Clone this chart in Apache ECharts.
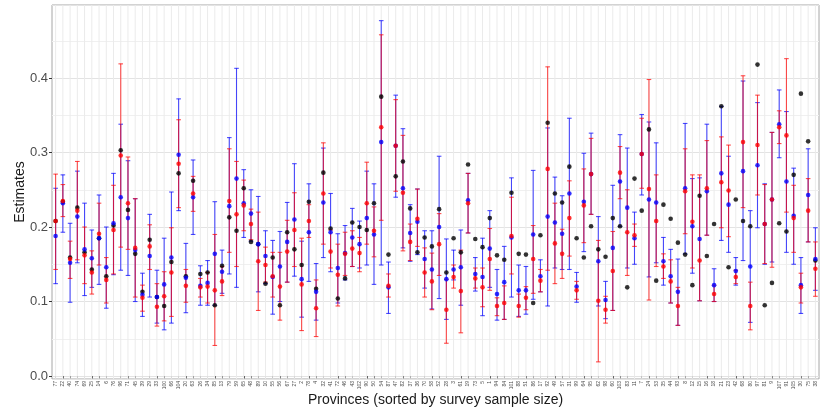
<!DOCTYPE html>
<html>
<head>
<meta charset="utf-8">
<script src="https://cdn.jsdelivr.net/npm/echarts@6/dist/echarts.min.js"></script>
<style>
  html, body { margin: 0; padding: 0; background: #fff; }
  #chart { width: 821px; height: 412px; }
</style>
</head>
<body>
<div id="chart"></div>
<script>
// provinces, sorted by survey sample size
const provinces = [77,22,40,74,69,25,14,6,76,96,
  71,45,39,29,33,100,66,104,20,63,
  26,34,85,13,79,59,65,48,89,10,
  55,56,67,27,2,78,4,32,41,72,
  46,43,102,90,50,54,87,47,82,37,
  36,70,58,52,28,3,61,19,73,5,
  1,94,84,101,88,51,86,17,92,49,
  57,31,99,64,95,62,98,60,103,83,
  11,7,24,53,35,44,93,8,12,15,
  16,18,21,23,42,68,80,97,81,9,
  107,91,105,30,75,38];

// black estimate (points only)
const blackEst = [0.208,0.234,0.159,0.226,0.166,0.143,0.185,0.134,0.202,0.303,
  0.223,0.164,0.113,0.183,0.106,0.094,0.153,0.272,0.134,0.262,
  0.137,0.139,0.095,0.148,0.213,0.195,0.252,0.180,0.177,0.124,
  0.159,0.095,0.193,0.170,0.149,0.234,0.117,0.273,0.198,0.104,
  0.131,0.206,0.200,0.196,0.232,0.375,0.163,0.268,0.288,0.225,
  0.166,0.186,0.174,0.224,0.139,0.185,0.166,0.284,0.184,0.173,
  0.212,0.162,0.156,0.246,0.164,0.163,0.098,0.189,0.340,0.245,
  0.233,0.281,0.185,0.159,0.201,0.170,0.160,0.212,0.201,0.119,
  0.265,0.222,0.331,0.128,0.230,0.211,0.179,0.163,0.122,0.242,
  0.161,0.204,0.362,0.146,0.237,0.208,0.201,0.418,0.095,0.125,
  0.205,0.194,0.270,0.379,0.315,0.155];

// blue estimate with interval
const blueEst = [0.188,0.232,0.152,0.214,0.170,0.158,0.185,0.146,0.205,0.240,
  0.212,0.169,0.109,0.161,0.106,0.123,0.159,0.297,0.132,0.240,
  0.121,0.125,0.164,0.140,0.228,0.265,0.232,0.218,0.177,0.161,
  0.133,0.147,0.180,0.210,0.130,0.193,0.113,0.233,0.193,0.145,
  0.165,0.186,0.177,0.212,0.190,0.314,0.119,0.309,0.252,0.192,
  0.207,0.157,0.143,0.200,0.130,0.143,0.146,0.236,0.137,0.133,
  0.171,0.110,0.126,0.186,0.115,0.115,0.190,0.134,0.214,0.206,
  0.191,0.245,0.120,0.234,0.271,0.154,0.102,0.172,0.261,0.226,
  0.185,0.298,0.237,0.233,0.154,0.134,0.113,0.252,0.201,0.184,
  0.248,0.122,0.272,0.230,0.141,0.275,0.147,0.283,0.204,0.237,
  0.338,0.261,0.215,0.122,0.243,0.157];
const blueLo = [0.124,0.193,0.099,0.152,0.108,0.119,0.123,0.091,0.136,0.142,
  0.135,0.100,0.080,0.106,0.071,0.062,0.071,0.222,0.085,0.190,
  0.095,0.095,0.095,0.111,0.137,0.119,0.186,0.181,0.113,0.124,
  0.083,0.100,0.126,0.134,0.079,0.127,0.075,0.159,0.140,0.098,
  0.129,0.147,0.145,0.149,0.123,0.149,0.084,0.240,0.172,0.154,
  0.163,0.118,0.090,0.104,0.076,0.129,0.095,0.192,0.114,0.081,
  0.119,0.075,0.076,0.106,0.080,0.083,0.103,0.113,0.094,0.145,
  0.143,0.143,0.099,0.167,0.217,0.094,0.077,0.088,0.201,0.145,
  0.150,0.243,0.133,0.152,0.122,0.098,0.068,0.164,0.138,0.101,
  0.189,0.100,0.182,0.166,0.122,0.155,0.072,0.199,0.150,0.153,
  0.293,0.166,0.150,0.084,0.180,0.115];
const blueHi = [0.252,0.270,0.205,0.275,0.232,0.196,0.243,0.200,0.272,0.338,
  0.289,0.238,0.138,0.217,0.142,0.185,0.247,0.372,0.178,0.290,
  0.148,0.155,0.234,0.169,0.320,0.413,0.277,0.250,0.241,0.195,
  0.182,0.194,0.233,0.285,0.181,0.258,0.151,0.306,0.245,0.191,
  0.202,0.225,0.208,0.275,0.258,0.477,0.153,0.377,0.332,0.230,
  0.251,0.195,0.195,0.295,0.184,0.169,0.196,0.272,0.159,0.185,
  0.222,0.143,0.174,0.266,0.149,0.147,0.276,0.156,0.333,0.267,
  0.242,0.346,0.139,0.299,0.326,0.214,0.127,0.256,0.324,0.306,
  0.220,0.351,0.341,0.313,0.186,0.170,0.157,0.339,0.265,0.266,
  0.338,0.144,0.362,0.295,0.159,0.396,0.222,0.367,0.258,0.327,
  0.384,0.355,0.279,0.159,0.305,0.199];

// red estimate with interval
const redEst = [0.208,0.235,0.157,0.222,0.162,0.139,0.191,0.129,0.196,0.296,
  0.232,0.172,0.105,0.174,0.093,0.107,0.139,0.285,0.121,0.245,
  0.119,0.120,0.115,0.127,0.235,0.217,0.229,0.204,0.154,0.149,
  0.134,0.120,0.167,0.196,0.123,0.208,0.091,0.245,0.167,0.136,
  0.164,0.171,0.165,0.232,0.195,0.334,0.121,0.309,0.246,0.180,
  0.211,0.139,0.127,0.177,0.089,0.133,0.114,0.232,0.131,0.119,
  0.157,0.094,0.098,0.188,0.094,0.105,0.157,0.128,0.278,0.178,
  0.164,0.212,0.115,0.229,0.271,0.101,0.089,0.141,0.273,0.193,
  0.189,0.298,0.251,0.208,0.147,0.127,0.094,0.248,0.207,0.155,
  0.252,0.110,0.260,0.249,0.133,0.314,0.094,0.310,0.204,0.237,
  0.334,0.323,0.212,0.119,0.222,0.144];
const redLo = [0.143,0.214,0.131,0.156,0.124,0.110,0.149,0.098,0.137,0.173,
  0.170,0.106,0.087,0.143,0.067,0.074,0.080,0.226,0.099,0.221,
  0.106,0.098,0.041,0.108,0.166,0.147,0.195,0.183,0.088,0.126,
  0.106,0.075,0.126,0.147,0.061,0.186,0.053,0.177,0.145,0.094,
  0.135,0.147,0.140,0.177,0.160,0.209,0.106,0.248,0.168,0.155,
  0.174,0.106,0.089,0.135,0.044,0.118,0.058,0.192,0.118,0.093,
  0.115,0.081,0.076,0.137,0.079,0.089,0.111,0.113,0.142,0.124,
  0.131,0.161,0.103,0.179,0.217,0.019,0.071,0.088,0.238,0.135,
  0.174,0.252,0.102,0.147,0.131,0.098,0.068,0.191,0.145,0.101,
  0.189,0.100,0.199,0.187,0.124,0.226,0.062,0.243,0.151,0.146,
  0.312,0.220,0.166,0.098,0.180,0.107];
const redHi = [0.271,0.257,0.181,0.288,0.200,0.168,0.232,0.159,0.256,0.419,
  0.294,0.238,0.122,0.203,0.124,0.140,0.199,0.344,0.143,0.268,
  0.131,0.139,0.190,0.147,0.305,0.288,0.263,0.224,0.220,0.173,
  0.166,0.166,0.209,0.246,0.185,0.230,0.129,0.313,0.196,0.177,
  0.193,0.195,0.186,0.287,0.227,0.458,0.137,0.371,0.323,0.204,
  0.251,0.172,0.165,0.218,0.130,0.149,0.169,0.272,0.145,0.145,
  0.198,0.105,0.121,0.240,0.110,0.120,0.202,0.143,0.415,0.232,
  0.197,0.262,0.127,0.278,0.319,0.182,0.107,0.194,0.308,0.250,
  0.204,0.346,0.398,0.270,0.164,0.156,0.119,0.305,0.270,0.270,
  0.316,0.122,0.321,0.310,0.142,0.403,0.126,0.377,0.257,0.327,
  0.356,0.426,0.256,0.138,0.265,0.180];

const FONT = "'Liberation Sans', Arial, sans-serif";

const chart = echarts.init(document.getElementById("chart"), null, { renderer: "canvas" });

// vertical grid line at the centre of every category
function vGridSeries() {
  return {
    type: "custom",
    silent: true,
    z: 1,
    data: provinces.map((p, i) => [i, 0]),
    renderItem: (params, api) => {
      const x = api.coord([api.value(0), 0])[0];
      const cs = params.coordSys;
      return {
        type: "line",
        shape: { x1: x, y1: cs.y, x2: x, y2: cs.y + cs.height },
        style: { stroke: "#ebebeb", lineWidth: 1 },
      };
    },
  };
}

function errorBarSeries(lo, hi, color) {
  return {
    type: "custom",
    silent: true,
    data: lo.map((l, i) => [i, l, hi[i]]),
    encode: { x: 0, y: [1, 2] },
    renderItem: (params, api) => {
      const i = api.value(0);
      const pLo = api.coord([i, api.value(1)]);
      const pHi = api.coord([i, api.value(2)]);
      const hw = 2.3;
      const st = { stroke: color, lineWidth: 1.1 };
      return {
        type: "group",
        children: [
          { type: "line", shape: { x1: pLo[0], y1: pLo[1], x2: pHi[0], y2: pHi[1] }, style: st },
          { type: "line", shape: { x1: pLo[0] - hw, y1: pLo[1], x2: pLo[0] + hw, y2: pLo[1] }, style: st },
          { type: "line", shape: { x1: pHi[0] - hw, y1: pHi[1], x2: pHi[0] + hw, y2: pHi[1] }, style: st },
        ],
      };
    },
  };
}

function pointSeries(values, color) {
  return {
    type: "scatter",
    data: values,
    symbol: "circle",
    symbolSize: 4.6,
    itemStyle: { color: color },
    silent: true,
  };
}

const option = {
  animation: false,
  backgroundColor: "#ffffff",
  grid: {
    left: 52,
    right: 2,
    top: 5,
    bottom: 33,
    containLabel: false,
    outerBoundsMode: "none",
    show: true,
    borderColor: "#a6a6a6",
    borderWidth: 1,
  },
  xAxis: {
    type: "category",
    data: provinces.map(String),
    boundaryGap: true,
    name: "Provinces (sorted by survey sample size)",
    nameLocation: "middle",
    nameMoveOverlap: false,
    nameGap: 14,
    nameTextStyle: { fontSize: 14, color: "#1a1a1a", fontFamily: FONT },
    axisLine: { show: false },
    axisTick: { show: true, alignWithLabel: true, length: 2.5, lineStyle: { color: "#333333" } },
    axisLabel: { interval: 0, rotate: 90, fontSize: 5, color: "#4d4d4d", margin: 2, fontFamily: FONT },
    splitLine: { show: false },
  },
  yAxis: {
    type: "value",
    min: -0.004,
    max: 0.498,
    splitNumber: 5,
    name: "Estimates",
    nameLocation: "middle",
    nameMoveOverlap: false,
    nameGap: 25,
    nameTextStyle: { fontSize: 14, color: "#1a1a1a", fontFamily: FONT },
    axisLine: { show: false },
    axisTick: { show: true, length: 3, lineStyle: { color: "#333333" } },
    axisLabel: {
      fontSize: 13,
      color: "#4d4d4d",
      margin: 4,
      fontFamily: FONT,
      showMinLabel: false,
      showMaxLabel: false,
      formatter: (v) => v.toFixed(1),
    },
    splitLine: { show: true, lineStyle: { color: "#e3e3e3", width: 1 } },
    minorTick: { show: false, splitNumber: 2 },
    minorSplitLine: { show: true, lineStyle: { color: "#f0f0f0", width: 1 } },
  },
  series: [
    vGridSeries(),
    pointSeries(blackEst, "#000000"),
    errorBarSeries(blueLo, blueHi, "rgba(0,0,255,0.7)"),
    pointSeries(blueEst, "#0000ff"),
    errorBarSeries(redLo, redHi, "rgba(255,0,0,0.7)"),
    pointSeries(redEst, "#ff0000"),
  ],
};

chart.setOption(option);
</script>
</body>
</html>
